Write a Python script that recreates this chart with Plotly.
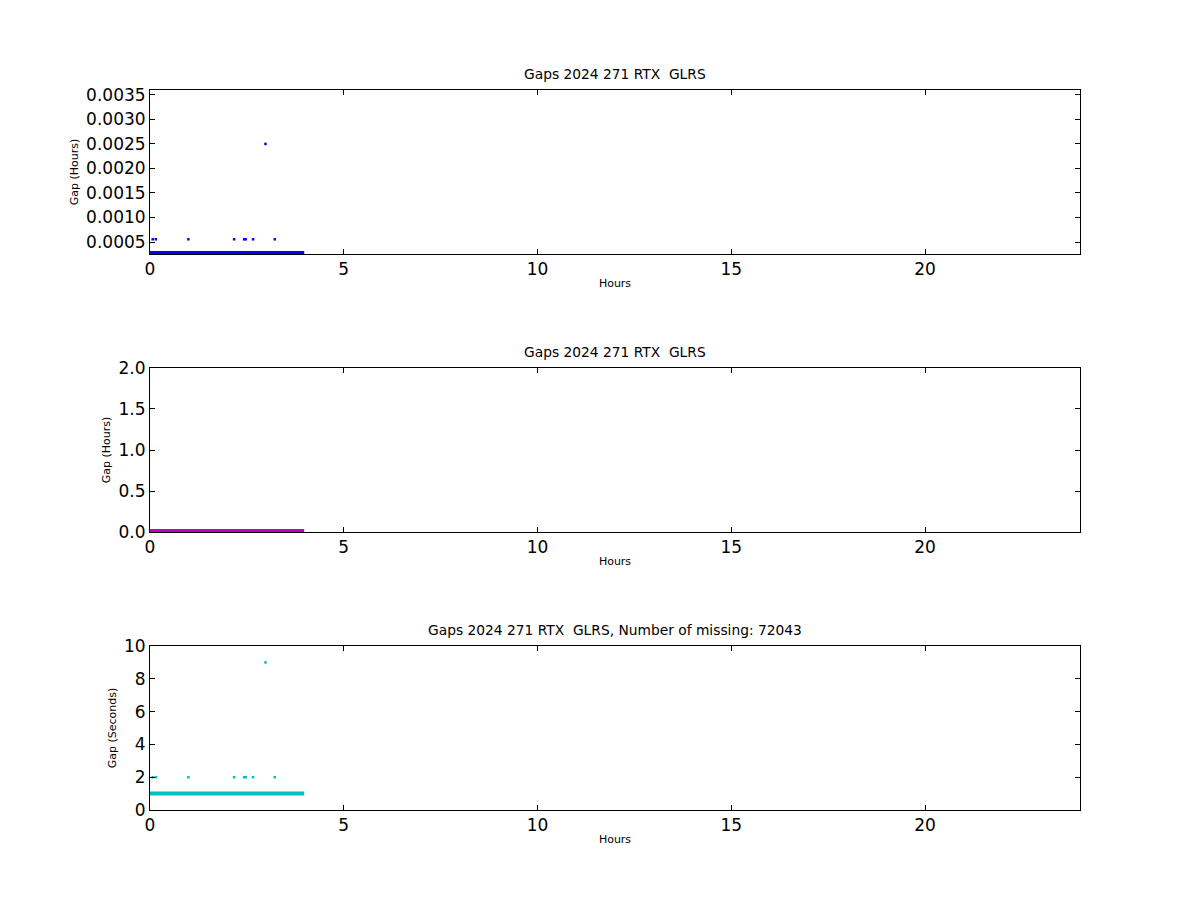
import plotly.graph_objects as go
from plotly.subplots import make_subplots

# ---- data (hours of day, gap sizes) ----
# continuous run of 1-second gaps spans from start to end (hours)
steady_span_hours = [0.0, 3.98]
steady_gap_seconds = [1.0, 1.0]
steady_gap_hours = [1.0 / 3600, 1.0 / 3600]

# isolated larger gaps
big_gap_times = [0.07, 0.15, 0.99, 2.17, 2.43, 2.47, 2.66, 2.98, 3.22]
big_gap_seconds = [2, 2, 2, 2, 2, 2, 2, 9, 2]
big_gap_hours = [s / 3600 for s in big_gap_seconds]

# gaps above threshold (all zero here)
large_span_hours = [0.0, 3.98]
large_gap_hours = [0.0, 0.0]

title_main = "Gaps 2024 271 RTX \u00a0GLRS"
n_missing = 72043

x_ticks = [0, 5, 10, 15, 20]
top_ticks = [0.0005, 0.0010, 0.0015, 0.0020, 0.0025, 0.0030, 0.0035]
mid_ticks = [0.0, 0.5, 1.0, 1.5, 2.0]
bot_ticks = [0, 2, 4, 6, 8, 10]

BLUE = "#0000ff"
MAG = "#bf00bf"
CYAN = "#00bfbf"
FONT = "DejaVu Sans"
TICK_SIZE = 17

fig = make_subplots(rows=3, cols=1)

# top panel
fig.add_trace(go.Scatter(x=steady_span_hours, y=steady_gap_hours, mode="lines",
                         line=dict(color=BLUE, width=4), showlegend=False), row=1, col=1)
fig.add_trace(go.Scatter(x=big_gap_times, y=big_gap_hours, mode="markers",
                         marker=dict(color=BLUE, size=2.5, symbol="square"), showlegend=False), row=1, col=1)
# middle panel
fig.add_trace(go.Scatter(x=large_span_hours, y=large_gap_hours, mode="lines",
                         line=dict(color=MAG, width=6), showlegend=False), row=2, col=1)
# bottom panel
fig.add_trace(go.Scatter(x=steady_span_hours, y=steady_gap_seconds, mode="lines",
                         line=dict(color=CYAN, width=4), showlegend=False), row=3, col=1)
fig.add_trace(go.Scatter(x=big_gap_times, y=big_gap_seconds, mode="markers",
                         marker=dict(color=CYAN, size=2.5, symbol="square"), showlegend=False), row=3, col=1)

domains = [[0.7722, 1.0], [0.3861, 0.6139], [0.0, 0.2278]]
for i in range(3):
    fig.update_xaxes(row=i + 1, col=1, domain=[0, 1], range=[0, 24], tickvals=x_ticks,
                     ticks="inside", ticklen=5, tickcolor="black", mirror="allticks",
                     showline=True, linecolor="black", linewidth=1, showgrid=False, zeroline=False,
                     automargin=False,
                     tickfont=dict(family=FONT, size=TICK_SIZE, color="black"),
                     title=dict(text="Hours", font=dict(family=FONT, size=11, color="black"), standoff=0))
    fig.update_yaxes(row=i + 1, col=1, domain=domains[i],
                     ticks="inside", ticklen=5, tickcolor="black", mirror="allticks",
                     showline=True, linecolor="black", linewidth=1, showgrid=False, zeroline=False,
                     automargin=False,
                     tickfont=dict(family=FONT, size=TICK_SIZE, color="black"))

fig.update_yaxes(row=1, col=1, range=[0.000255, 0.0036], tickvals=top_ticks, tickformat=".4f",
                 title=dict(text="Gap (Hours)", font=dict(family=FONT, size=11, color="black"), standoff=5))
fig.update_yaxes(row=2, col=1, range=[0, 2.0], tickvals=mid_ticks, tickformat=".1f",
                 title=dict(text="Gap (Hours)", font=dict(family=FONT, size=11, color="black"), standoff=5))
fig.update_yaxes(row=3, col=1, range=[0, 10], tickvals=bot_ticks,
                 title=dict(text="Gap (Seconds)", font=dict(family=FONT, size=11, color="black"), standoff=5))

titles = [title_main, title_main, f"{title_main}, Number of missing: {n_missing}"]
for i, t in enumerate(titles):
    fig.add_annotation(text=t, xref="paper", yref="paper", x=0.5, y=domains[i][1],
                       yshift=6, xanchor="center", yanchor="bottom", showarrow=False,
                       font=dict(family=FONT, size=13.8, color="black"))

fig.update_layout(width=1200, height=900, margin=dict(l=142, r=128, t=82, b=98),
                  plot_bgcolor="white", paper_bgcolor="white")

fig.write_html("out.html")
